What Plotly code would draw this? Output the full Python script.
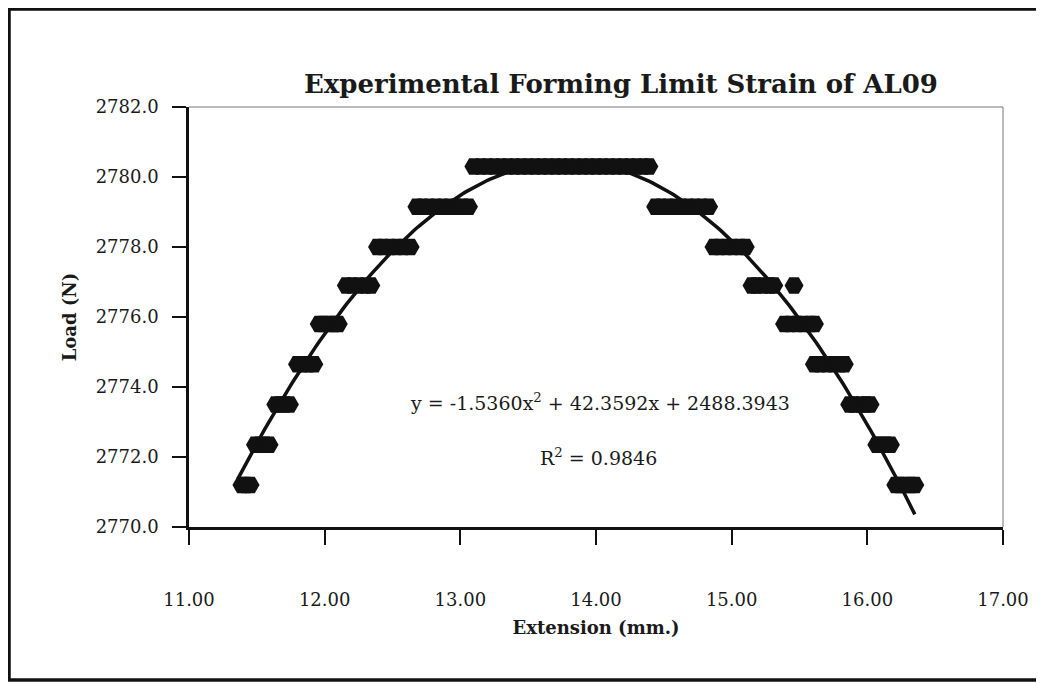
import numpy as np
import plotly.graph_objects as go

# ---- data ----
load_levels = [2771.2, 2772.35, 2773.5, 2774.65, 2775.8, 2776.9, 2778.0, 2779.15, 2780.3]

ext_rising = [
    [11.39, 11.42, 11.45],
    [11.49, 11.52, 11.56, 11.59],
    [11.64, 11.67, 11.71, 11.74],
    [11.80, 11.84, 11.88, 11.92],
    [11.96, 11.99, 12.03, 12.07, 12.10],
    [12.16, 12.20, 12.25, 12.30, 12.34],
    [12.39, 12.43, 12.48, 12.53, 12.58, 12.63],
    [12.68, 12.72, 12.77, 12.82, 12.87, 12.92, 12.97, 13.02, 13.06],
    [13.10, 13.15, 13.20, 13.25, 13.30, 13.35, 13.40, 13.45, 13.50, 13.55,
     13.60, 13.65, 13.70, 13.75, 13.80, 13.85, 13.90, 13.95, 14.00, 14.05,
     14.10, 14.15, 14.20, 14.25, 14.30, 14.35, 14.39],
]

ext_falling = [
    [16.21, 16.24, 16.28, 16.32, 16.35],
    [16.07, 16.10, 16.14, 16.17],
    [15.87, 15.90, 15.95, 15.99, 16.02],
    [15.61, 15.65, 15.70, 15.75, 15.80, 15.83],
    [15.39, 15.43, 15.48, 15.53, 15.58, 15.61],
    [15.15, 15.18, 15.23, 15.28, 15.31, 15.46],
    [14.87, 14.91, 14.96, 15.01, 15.06, 15.10],
    [14.44, 14.48, 14.53, 14.58, 14.63, 14.68, 14.73, 14.78, 14.83],
    [],
]

trend_coeffs = [-1.5360, 42.3592, 2488.3943]   # printed on the chart
trend_x_range = [11.36, 16.35]
r_squared = 0.9846

x_ticks = [11, 12, 13, 14, 15, 16, 17]
y_ticks = [2770, 2772, 2774, 2776, 2778, 2780, 2782]

title_text = "Experimental Forming Limit Strain of AL09"
x_title = "Extension (mm.)"
y_title = "Load (N)"

# ---- build traces ----
xs, ys = [], []
for lvl, group in zip(load_levels, ext_rising):
    xs += group
    ys += [lvl] * len(group)
for lvl, group in zip(load_levels, ext_falling):
    xs += group
    ys += [lvl] * len(group)

tx = np.linspace(trend_x_range[0], trend_x_range[1], 200)
ty = np.polyval(trend_coeffs, tx)

fig = go.Figure()
fig.add_trace(go.Scatter(x=xs, y=ys, mode="markers",
                         marker=dict(symbol="hexagon2", size=19, color="#111111",
                                     line=dict(width=0)),
                         showlegend=False, hoverinfo="x+y"))
fig.add_trace(go.Scatter(x=tx, y=ty, mode="lines",
                         line=dict(color="#111111", width=3.5),
                         showlegend=False, hoverinfo="skip"))

serif = "DejaVu Serif"
OFF = 8                      # page body margin of the html page
W, H = 1044 - OFF, 685 - OFF
L, R, T, B = 189, 1003, 107, 527   # plot area in page pixels

fig.update_layout(
    width=W, height=H,
    margin=dict(l=L - OFF, r=W - (R - OFF), t=T - OFF, b=H - (B - OFF), pad=0),
    paper_bgcolor="white", plot_bgcolor="white",
    title=dict(text=title_text, x=(621 - OFF) / W, xanchor="center",
               y=1 - (84 - OFF) / H, yanchor="middle",
               font=dict(family=serif, size=26, color="#1a1a1a", weight="bold")),
    font=dict(family=serif, color="#1a1a1a"),
    xaxis=dict(range=[11, 17], tickvals=x_ticks,
               ticktext=[f"{v:.2f}" for v in x_ticks],
               showgrid=False, zeroline=False,
               showline=True, linecolor="#111111", linewidth=2.5,
               ticks="outside", ticklen=15, tickwidth=2, tickcolor="#111111",
               ticklabelstandoff=40,
               tickfont=dict(family=serif, size=18, color="#1a1a1a"),
               title=dict(text=x_title, standoff=13,
                          font=dict(family=serif, size=18, color="#1a1a1a", weight="bold"))),
    yaxis=dict(range=[2770, 2782], tickvals=y_ticks,
               ticktext=[f"{v:.1f}" for v in y_ticks],
               showgrid=False, zeroline=False,
               showline=True, linecolor="#111111", linewidth=2.5,
               ticks="outside", ticklen=14, tickwidth=2, tickcolor="#111111",
               ticklabelstandoff=10,
               tickfont=dict(family=serif, size=18, color="#1a1a1a"),
               title=dict(text=y_title, standoff=15,
                          font=dict(family=serif, size=18, color="#1a1a1a", weight="bold"))),
)

# thin top/right border of plot area
fig.add_shape(type="line", xref="paper", yref="paper", x0=0, x1=1, y0=1, y1=1,
              line=dict(color="#777777", width=1))
fig.add_shape(type="line", xref="paper", yref="paper", x0=1, x1=1, y0=0, y1=1,
              line=dict(color="#777777", width=1))


def px_x(p):
    return (p - L) / (R - L)


def px_y(p):
    return (B - p) / (B - T)


# outer frame of the chart (top, left, bottom)
frame = dict(color="#111111", width=3.5)
fig.add_shape(type="line", xref="paper", yref="paper",
              x0=px_x(OFF), x1=px_x(1044), y0=px_y(OFF + 1), y1=px_y(OFF + 1), line=frame)
fig.add_shape(type="line", xref="paper", yref="paper",
              x0=px_x(OFF + 1), x1=px_x(OFF + 1), y0=px_y(OFF), y1=px_y(681), line=frame)
fig.add_shape(type="line", xref="paper", yref="paper",
              x0=px_x(OFF), x1=px_x(1044), y0=px_y(680), y1=px_y(680), line=frame)

# trendline equation and R^2
c = trend_coeffs
eq = f"y = {c[0]:.4f}x<sup>2</sup> + {c[1]:.4f}x + {c[2]:.4f}"
fig.add_annotation(x=px_x(600), y=px_y(402), xref="paper", yref="paper",
                   text=eq, showarrow=False, xanchor="center", yanchor="middle",
                   font=dict(family=serif, size=19, color="#1a1a1a"))
fig.add_annotation(x=px_x(598), y=px_y(457), xref="paper", yref="paper",
                   text=f"R<sup>2</sup> = {r_squared:.4f}", showarrow=False,
                   xanchor="center", yanchor="middle",
                   font=dict(family=serif, size=19, color="#1a1a1a"))

fig.write_html("out.html")
